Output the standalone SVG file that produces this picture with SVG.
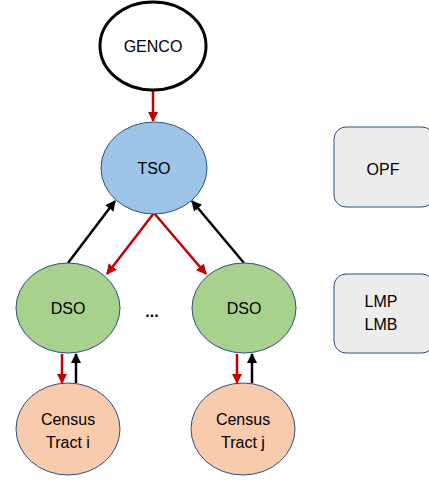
<svg xmlns="http://www.w3.org/2000/svg" width="429" height="480" viewBox="0 0 429 480">
<defs>
<style>
text{font-family:"Liberation Sans",Arial,sans-serif;font-size:16px;fill:#000;text-anchor:middle}
.node{stroke:#2F4F7F;stroke-width:1}
.red{stroke:#C00000;stroke-width:2.5;fill:none}
.blk{stroke:#000;stroke-width:2.5;fill:none}
</style>
<marker id="ar" viewBox="0 0 10 10" refX="9" refY="5" markerWidth="4.2" markerHeight="4.2" orient="auto" markerUnits="strokeWidth"><path d="M0,0 L10,5 L0,10 z" fill="#C00000"/></marker>
<marker id="ab" viewBox="0 0 10 10" refX="9" refY="5" markerWidth="4.2" markerHeight="4.2" orient="auto" markerUnits="strokeWidth"><path d="M0,0 L10,5 L0,10 z" fill="#000"/></marker>
</defs>
<g id="connectors">
<line class="red" x1="153" y1="91" x2="153" y2="121" marker-end="url(#ar)"/>
<line class="red" x1="154" y1="213" x2="107" y2="274" marker-end="url(#ar)"/>
<line class="red" x1="154" y1="213" x2="206" y2="274" marker-end="url(#ar)"/>
<line class="blk" x1="68" y1="263" x2="115" y2="201" marker-end="url(#ab)"/>
<line class="blk" x1="244" y1="263" x2="192" y2="201" marker-end="url(#ab)"/>
<line class="red" x1="62" y1="354" x2="62" y2="383" marker-end="url(#ar)"/>
<line class="blk" x1="76" y1="383" x2="76" y2="354" marker-end="url(#ab)"/>
<line class="red" x1="237" y1="354" x2="237" y2="383" marker-end="url(#ar)"/>
<line class="blk" x1="252" y1="383" x2="252" y2="354" marker-end="url(#ab)"/>
</g>
<g id="genco"><ellipse cx="153" cy="46" rx="53" ry="44" fill="#fff" stroke="#000" stroke-width="3"/><text x="153" y="52">GENCO</text></g>
<g id="tso"><ellipse class="node" cx="154" cy="168" rx="53" ry="46" fill="#9DC3E6"/><text x="154" y="174">TSO</text></g>
<g id="dso1"><ellipse class="node" cx="68" cy="308" rx="52" ry="45" fill="#A9D18E"/><text x="68" y="314">DSO</text></g>
<g id="dso2"><ellipse class="node" cx="244" cy="308" rx="52" ry="45" fill="#A9D18E"/><text x="244" y="314">DSO</text></g>
<text x="152" y="317" style="font-weight:bold;font-size:16px">...</text>
<g id="census1"><ellipse class="node" cx="68" cy="429" rx="52" ry="46" fill="#F8CBAD"/><text x="68" y="425">Census</text><text x="68" y="448">Tract i</text></g>
<g id="census2"><ellipse class="node" cx="243" cy="429" rx="52" ry="46" fill="#F8CBAD"/><text x="243" y="425">Census</text><text x="243" y="448">Tract j</text></g>
<g id="opf"><rect class="node" x="334" y="127" width="100" height="80" rx="12" fill="#EDEDED"/><text x="383" y="175">OPF</text></g>
<g id="lmp"><rect class="node" x="334" y="274" width="100" height="79" rx="12" fill="#EDEDED"/><text x="381" y="307">LMP</text><text x="381" y="330">LMB</text></g>
</svg>
